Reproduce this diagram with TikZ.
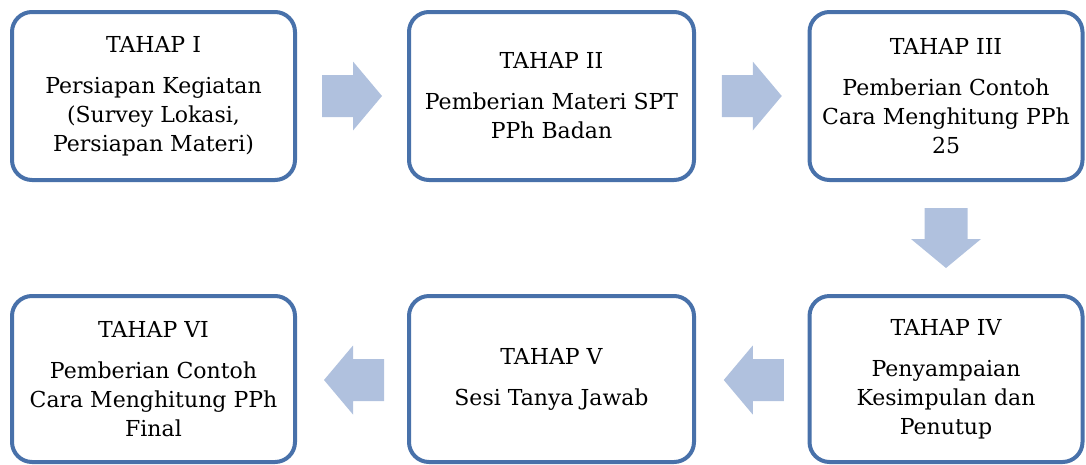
\documentclass[tikz,border=0pt]{standalone}
\usepackage{fontspec}
\setmainfont{DejaVu Serif}
\usetikzlibrary{calc}
\definecolor{boxline}{RGB}{72,113,170}
\definecolor{arrowfill}{RGB}{176,193,222}
\tikzset{
  stage/.style={draw=boxline, line width=4pt, fill=white, rounded corners=20pt,
    align=center, inner sep=0pt, font=\fontsize{22}{29}\selectfont, text=black},
  blockarrow/.style={fill=arrowfill, draw=none}
}
\newcommand{\rarrow}[1]{\fill[blockarrow] (#1) ++(-30,-21) -- ++(31,0) -- ++(0,-13.5) -- ++(29,34.5) -- ++(-29,34.5) -- ++(0,-13.5) -- ++(-31,0) -- cycle;}
\newcommand{\larrow}[1]{\fill[blockarrow] (#1) ++(30,-21) -- ++(-31,0) -- ++(0,-13.5) -- ++(-29,34.5) -- ++(29,34.5) -- ++(0,-13.5) -- ++(31,0) -- cycle;}
\newcommand{\darrow}[1]{\fill[blockarrow] (#1) ++(-21.5,-30) -- ++(0,31) -- ++(-13.5,0) -- ++(35,29) -- ++(35,-29) -- ++(-13.5,0) -- ++(0,-31) -- cycle;}
\begin{document}
\begin{tikzpicture}[x=1pt,y=-1pt]
\useasboundingbox (0,0) rectangle (1086,464);
% top row
\node[stage, minimum width=283pt, minimum height=168pt] (t1) at (153.5,96)
  {TAHAP I\\[12pt]Persiapan Kegiatan\\(Survey Lokasi,\\Persiapan Materi)};
\node[stage, minimum width=285pt, minimum height=168pt] (t2) at (551.5,96)
  {TAHAP II\\[12pt]Pemberian Materi SPT\\PPh Badan};
\node[stage, minimum width=273pt, minimum height=168pt] (t3) at (946,96)
  {TAHAP III\\[12pt]Pemberian Contoh\\Cara Menghitung PPh\\25};
% bottom row
\node[stage, minimum width=273pt, minimum height=166pt] (t4) at (946,379)
  {TAHAP IV\\[12pt]Penyampaian\\Kesimpulan dan\\Penutup};
\node[stage, minimum width=285pt, minimum height=166pt] (t5) at (551.5,379)
  {TAHAP V\\[12pt]Sesi Tanya Jawab};
\node[stage, minimum width=283pt, minimum height=166pt] (t6) at (153.5,379)
  {TAHAP VI\\[12pt]Pemberian Contoh\\Cara Menghitung PPh\\Final};
% arrows
\coordinate (a12) at ($(t1.east)!0.5!(t2.west)$);
\coordinate (a23) at ($(t2.east)!0.5!(t3.west)$);
\coordinate (a34) at ($(t3.south)!0.5!(t4.north)$);
\coordinate (a45) at ($(t5.east)!0.5!(t4.west)+(2,1)$);
\coordinate (a56) at ($(t6.east)!0.5!(t5.west)+(2,1)$);
\rarrow{a12}
\rarrow{a23}
\darrow{a34}
\larrow{a45}
\larrow{a56}
\end{tikzpicture}
\end{document}
